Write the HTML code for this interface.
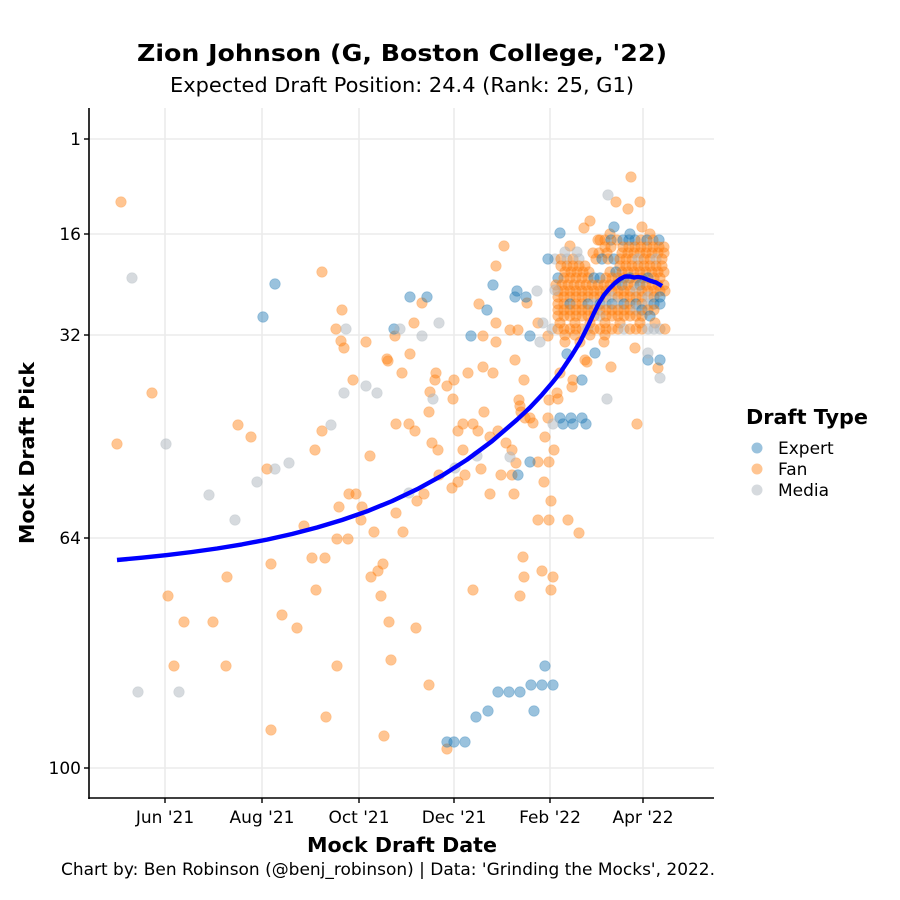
<!DOCTYPE html>
<html><head><meta charset="utf-8"><style>
html,body{margin:0;padding:0;background:#fff;}
svg{display:block;font-family:"DejaVu Sans","Liberation Sans",sans-serif;}
.f{fill:#ff7f0e;fill-opacity:.45;stroke:#ff7f0e;stroke-opacity:.25;stroke-width:.8}
.e{fill:#1f77b4;fill-opacity:.45;stroke:#1f77b4;stroke-opacity:.3;stroke-width:.8}
.m{fill:#adb5bd;fill-opacity:.5;stroke:#adb5bd;stroke-opacity:.3;stroke-width:.8}
.g{stroke:#ebebeb;stroke-width:1.6}
.tk{font-size:17px;fill:#000}
</style></head><body>
<svg width="900" height="900" viewBox="0 0 900 900" xmlns="http://www.w3.org/2000/svg">
<rect width="900" height="900" fill="#fff"/>
<!-- titles -->
<text x="402" y="61" text-anchor="middle" font-weight="bold" font-size="23" textLength="530" lengthAdjust="spacingAndGlyphs">Zion Johnson (G, Boston College, '22)</text>
<text x="402" y="92" text-anchor="middle" font-size="20" textLength="464" lengthAdjust="spacingAndGlyphs">Expected Draft Position: 24.4 (Rank: 25, G1)</text>
<!-- grid -->
<g class="g">
<line x1="89" y1="139" x2="714" y2="139"/><line x1="89" y1="234" x2="714" y2="234"/><line x1="89" y1="335" x2="714" y2="335"/><line x1="89" y1="538" x2="714" y2="538"/><line x1="89" y1="768" x2="714" y2="768"/>
<line x1="165" y1="108" x2="165" y2="798"/><line x1="262" y1="108" x2="262" y2="798"/><line x1="359" y1="108" x2="359" y2="798"/><line x1="454" y1="108" x2="454" y2="798"/><line x1="550" y1="108" x2="550" y2="798"/><line x1="643" y1="108" x2="643" y2="798"/>
</g>
<!-- points -->
<g>
<g id="fan">
<circle class="f" cx="121" cy="202" r="5.3"/><circle class="f" cx="117" cy="444" r="5.3"/><circle class="f" cx="152" cy="393" r="5.3"/><circle class="f" cx="168" cy="596" r="5.3"/><circle class="f" cx="174" cy="666" r="5.3"/><circle class="f" cx="184" cy="622" r="5.3"/><circle class="f" cx="213" cy="622" r="5.3"/><circle class="f" cx="226" cy="666" r="5.3"/><circle class="f" cx="227" cy="577" r="5.3"/><circle class="f" cx="238" cy="425" r="5.3"/><circle class="f" cx="251" cy="437" r="5.3"/><circle class="f" cx="267" cy="469" r="5.3"/><circle class="f" cx="271" cy="564" r="5.3"/><circle class="f" cx="271" cy="730" r="5.3"/><circle class="f" cx="282" cy="615" r="5.3"/><circle class="f" cx="297" cy="628" r="5.3"/><circle class="f" cx="304" cy="526" r="5.3"/><circle class="f" cx="312" cy="558" r="5.3"/><circle class="f" cx="315" cy="450" r="5.3"/><circle class="f" cx="316" cy="590" r="5.3"/><circle class="f" cx="322" cy="272" r="5.3"/><circle class="f" cx="322" cy="431" r="5.3"/><circle class="f" cx="325" cy="558" r="5.3"/><circle class="f" cx="326" cy="717" r="5.3"/><circle class="f" cx="337" cy="539" r="5.3"/><circle class="f" cx="337" cy="666" r="5.3"/><circle class="f" cx="339" cy="507" r="5.3"/><circle class="f" cx="341" cy="341" r="5.3"/><circle class="f" cx="342" cy="310" r="5.3"/><circle class="f" cx="336" cy="329" r="5.3"/><circle class="f" cx="344" cy="348" r="5.3"/><circle class="f" cx="349" cy="494" r="5.3"/><circle class="f" cx="348" cy="539" r="5.3"/><circle class="f" cx="353" cy="380" r="5.3"/><circle class="f" cx="356" cy="494" r="5.3"/><circle class="f" cx="362" cy="507" r="5.3"/><circle class="f" cx="361" cy="520" r="5.3"/><circle class="f" cx="366" cy="342" r="5.3"/><circle class="f" cx="370" cy="456" r="5.3"/><circle class="f" cx="371" cy="577" r="5.3"/><circle class="f" cx="378" cy="571" r="5.3"/><circle class="f" cx="383" cy="564" r="5.3"/><circle class="f" cx="381" cy="596" r="5.3"/><circle class="f" cx="384" cy="736" r="5.3"/><circle class="f" cx="388" cy="361" r="5.3"/><circle class="f" cx="389" cy="622" r="5.3"/><circle class="f" cx="391" cy="660" r="5.3"/><circle class="f" cx="396" cy="424" r="5.3"/><circle class="f" cx="396" cy="513" r="5.3"/><circle class="f" cx="395" cy="336" r="5.3"/><circle class="f" cx="402" cy="373" r="5.3"/><circle class="f" cx="409" cy="424" r="5.3"/><circle class="f" cx="410" cy="354" r="5.3"/><circle class="f" cx="414" cy="323" r="5.3"/><circle class="f" cx="415" cy="431" r="5.3"/><circle class="f" cx="416" cy="628" r="5.3"/><circle class="f" cx="417" cy="501" r="5.3"/><circle class="f" cx="422" cy="303" r="5.3"/><circle class="f" cx="424" cy="494" r="5.3"/><circle class="f" cx="374" cy="532" r="5.3"/><circle class="f" cx="403" cy="532" r="5.3"/><circle class="f" cx="387" cy="359" r="5.3"/><circle class="f" cx="429" cy="685" r="5.3"/><circle class="f" cx="429" cy="412" r="5.3"/><circle class="f" cx="430" cy="392" r="5.3"/><circle class="f" cx="432" cy="443" r="5.3"/><circle class="f" cx="435" cy="380" r="5.3"/><circle class="f" cx="436" cy="373" r="5.3"/><circle class="f" cx="438" cy="450" r="5.3"/><circle class="f" cx="439" cy="475" r="5.3"/><circle class="f" cx="447" cy="749" r="5.3"/><circle class="f" cx="447" cy="386" r="5.3"/><circle class="f" cx="453" cy="399" r="5.3"/><circle class="f" cx="454" cy="380" r="5.3"/><circle class="f" cx="452" cy="488" r="5.3"/><circle class="f" cx="458" cy="431" r="5.3"/><circle class="f" cx="458" cy="482" r="5.3"/><circle class="f" cx="463" cy="450" r="5.3"/><circle class="f" cx="463" cy="424" r="5.3"/><circle class="f" cx="465" cy="475" r="5.3"/><circle class="f" cx="468" cy="373" r="5.3"/><circle class="f" cx="473" cy="424" r="5.3"/><circle class="f" cx="473" cy="590" r="5.3"/><circle class="f" cx="478" cy="431" r="5.3"/><circle class="f" cx="479" cy="304" r="5.3"/><circle class="f" cx="481" cy="469" r="5.3"/><circle class="f" cx="483" cy="367" r="5.3"/><circle class="f" cx="483" cy="336" r="5.3"/><circle class="f" cx="484" cy="412" r="5.3"/><circle class="f" cx="490" cy="437" r="5.3"/><circle class="f" cx="490" cy="494" r="5.3"/><circle class="f" cx="493" cy="373" r="5.3"/><circle class="f" cx="496" cy="266" r="5.3"/><circle class="f" cx="496" cy="323" r="5.3"/><circle class="f" cx="496" cy="342" r="5.3"/><circle class="f" cx="498" cy="431" r="5.3"/><circle class="f" cx="501" cy="475" r="5.3"/><circle class="f" cx="504" cy="246" r="5.3"/><circle class="f" cx="506" cy="443" r="5.3"/><circle class="f" cx="512" cy="450" r="5.3"/><circle class="f" cx="512" cy="475" r="5.3"/><circle class="f" cx="514" cy="494" r="5.3"/><circle class="f" cx="515" cy="360" r="5.3"/><circle class="f" cx="516" cy="463" r="5.3"/><circle class="f" cx="519" cy="400" r="5.3"/><circle class="f" cx="520" cy="406" r="5.3"/><circle class="f" cx="521" cy="412" r="5.3"/><circle class="f" cx="524" cy="380" r="5.3"/><circle class="f" cx="525" cy="418" r="5.3"/><circle class="f" cx="530" cy="418" r="5.3"/><circle class="f" cx="533" cy="423" r="5.3"/><circle class="f" cx="520" cy="596" r="5.3"/><circle class="f" cx="523" cy="557" r="5.3"/><circle class="f" cx="524" cy="577" r="5.3"/><circle class="f" cx="527" cy="303" r="5.3"/><circle class="f" cx="510" cy="330" r="5.3"/><circle class="f" cx="518" cy="330" r="5.3"/><circle class="f" cx="538" cy="323" r="5.3"/><circle class="f" cx="538" cy="462" r="5.3"/><circle class="f" cx="538" cy="520" r="5.3"/><circle class="f" cx="542" cy="571" r="5.3"/><circle class="f" cx="544" cy="482" r="5.3"/><circle class="f" cx="545" cy="437" r="5.3"/><circle class="f" cx="548" cy="418" r="5.3"/><circle class="f" cx="549" cy="400" r="5.3"/><circle class="f" cx="549" cy="462" r="5.3"/><circle class="f" cx="549" cy="520" r="5.3"/><circle class="f" cx="551" cy="501" r="5.3"/><circle class="f" cx="551" cy="590" r="5.3"/><circle class="f" cx="553" cy="577" r="5.3"/><circle class="f" cx="554" cy="450" r="5.3"/><circle class="f" cx="557" cy="393" r="5.3"/><circle class="f" cx="558" cy="399" r="5.3"/><circle class="f" cx="560" cy="373" r="5.3"/><circle class="f" cx="568" cy="520" r="5.3"/><circle class="f" cx="572" cy="387" r="5.3"/><circle class="f" cx="573" cy="380" r="5.3"/><circle class="f" cx="579" cy="533" r="5.3"/><circle class="f" cx="587" cy="362" r="5.3"/><circle class="f" cx="585" cy="360" r="5.3"/><circle class="f" cx="604" cy="342" r="5.3"/><circle class="f" cx="611" cy="367" r="5.3"/><circle class="f" cx="635" cy="348" r="5.3"/><circle class="f" cx="637" cy="424" r="5.3"/><circle class="f" cx="658" cy="368" r="5.3"/><circle class="f" cx="548" cy="336" r="5.3"/><circle class="f" cx="565" cy="342" r="5.3"/><circle class="f" cx="580" cy="342" r="5.3"/>
<circle class="f" cx="600" cy="240" r="5.3"/><circle class="f" cx="584" cy="228" r="5.3"/><circle class="f" cx="590" cy="221" r="5.3"/><circle class="f" cx="631" cy="177" r="5.3"/><circle class="f" cx="616" cy="202" r="5.3"/><circle class="f" cx="640" cy="202" r="5.3"/><circle class="f" cx="628" cy="209" r="5.3"/><circle class="f" cx="642" cy="227" r="5.3"/><circle class="f" cx="570" cy="246" r="5.3"/>
</g>
<!-- dense blob -->
<g>
<circle class="f" cx="610" cy="234" r="5.3"/><circle class="e" cx="630" cy="234" r="5.3"/><circle class="f" cx="650" cy="234" r="5.3"/>
<circle class="f" cx="598" cy="240" r="5.3"/><circle class="f" cx="605" cy="240" r="5.3"/><circle class="e" cx="611" cy="240" r="5.3"/><circle class="f" cx="617" cy="240" r="5.3"/><circle class="e" cx="623" cy="240" r="5.3"/><circle class="e" cx="629" cy="240" r="5.3"/><circle class="e" cx="635" cy="240" r="5.3"/><circle class="f" cx="641" cy="240" r="5.3"/><circle class="e" cx="647" cy="240" r="5.3"/><circle class="f" cx="653" cy="240" r="5.3"/><circle class="e" cx="659" cy="240" r="5.3"/>
<circle class="f" cx="605" cy="247" r="5.3"/><circle class="f" cx="611" cy="247" r="5.3"/><circle class="f" cx="623" cy="247" r="5.3"/><circle class="f" cx="629" cy="247" r="5.3"/><circle class="f" cx="635" cy="247" r="5.3"/><circle class="f" cx="641" cy="247" r="5.3"/><circle class="f" cx="647" cy="247" r="5.3"/><circle class="f" cx="653" cy="247" r="5.3"/><circle class="f" cx="659" cy="247" r="5.3"/><circle class="f" cx="664" cy="247" r="5.3"/>
<g transform="translate(3,0)">
<circle class="f" cx="590" cy="253" r="5.3"/><circle class="f" cx="596" cy="253" r="5.3"/><circle class="f" cx="604" cy="253" r="5.3"/><circle class="f" cx="619" cy="253" r="5.3"/><circle class="f" cx="625" cy="253" r="5.3"/><circle class="f" cx="631" cy="253" r="5.3"/><circle class="f" cx="637" cy="253" r="5.3"/><circle class="f" cx="643" cy="253" r="5.3"/><circle class="f" cx="649" cy="253" r="5.3"/><circle class="f" cx="655" cy="253" r="5.3"/><circle class="f" cx="661" cy="253" r="5.3"/>
</g>
<circle class="m" cx="555" cy="259" r="5.3"/><circle class="f" cx="561" cy="259" r="5.3"/><circle class="m" cx="567" cy="259" r="5.3"/><circle class="f" cx="573" cy="259" r="5.3"/><circle class="m" cx="579" cy="259" r="5.3"/><circle class="f" cx="596" cy="259" r="5.3"/><circle class="e" cx="602" cy="259" r="5.3"/><circle class="f" cx="608" cy="259" r="5.3"/><circle class="e" cx="614" cy="259" r="5.3"/><circle class="f" cx="620" cy="259" r="5.3"/><circle class="f" cx="626" cy="259" r="5.3"/><circle class="f" cx="632" cy="259" r="5.3"/><circle class="m" cx="638" cy="259" r="5.3"/><circle class="f" cx="644" cy="259" r="5.3"/><circle class="f" cx="650" cy="259" r="5.3"/><circle class="m" cx="656" cy="259" r="5.3"/><circle class="f" cx="662" cy="259" r="5.3"/>
<g transform="translate(3,0)">
<circle class="f" cx="558" cy="266" r="5.3"/><circle class="f" cx="564" cy="266" r="5.3"/><circle class="f" cx="570" cy="266" r="5.3"/><circle class="f" cx="576" cy="266" r="5.3"/><circle class="f" cx="582" cy="266" r="5.3"/><circle class="f" cx="617" cy="266" r="5.3"/><circle class="f" cx="623" cy="266" r="5.3"/><circle class="f" cx="629" cy="266" r="5.3"/><circle class="f" cx="635" cy="266" r="5.3"/><circle class="f" cx="641" cy="266" r="5.3"/><circle class="f" cx="647" cy="266" r="5.3"/><circle class="f" cx="653" cy="266" r="5.3"/><circle class="f" cx="659" cy="266" r="5.3"/>
</g>
<circle class="f" cx="565" cy="272" r="5.3"/><circle class="f" cx="571" cy="272" r="5.3"/><circle class="f" cx="577" cy="272" r="5.3"/><circle class="f" cx="583" cy="272" r="5.3"/><circle class="f" cx="589" cy="272" r="5.3"/><circle class="f" cx="610" cy="272" r="5.3"/><circle class="e" cx="616" cy="272" r="5.3"/><circle class="f" cx="622" cy="272" r="5.3"/><circle class="f" cx="628" cy="272" r="5.3"/><circle class="f" cx="634" cy="272" r="5.3"/><circle class="f" cx="640" cy="272" r="5.3"/><circle class="f" cx="646" cy="272" r="5.3"/><circle class="f" cx="652" cy="272" r="5.3"/><circle class="f" cx="658" cy="272" r="5.3"/><circle class="f" cx="664" cy="272" r="5.3"/>
<g transform="translate(3,0)">
<circle class="e" cx="555" cy="278" r="5.3"/><circle class="f" cx="561" cy="278" r="5.3"/><circle class="f" cx="567" cy="278" r="5.3"/><circle class="f" cx="573" cy="278" r="5.3"/><circle class="f" cx="579" cy="278" r="5.3"/><circle class="f" cx="585" cy="278" r="5.3"/><circle class="e" cx="591" cy="278" r="5.3"/><circle class="e" cx="597" cy="278" r="5.3"/><circle class="f" cx="603" cy="278" r="5.3"/><circle class="f" cx="609" cy="278" r="5.3"/><circle class="f" cx="615" cy="278" r="5.3"/><circle class="f" cx="621" cy="278" r="5.3"/><circle class="e" cx="627" cy="278" r="5.3"/><circle class="f" cx="633" cy="278" r="5.3"/><circle class="f" cx="639" cy="278" r="5.3"/><circle class="e" cx="645" cy="278" r="5.3"/><circle class="f" cx="651" cy="278" r="5.3"/><circle class="f" cx="657" cy="278" r="5.3"/>
</g>
<circle class="f" cx="556" cy="285" r="5.3"/><circle class="f" cx="562" cy="285" r="5.3"/><circle class="f" cx="568" cy="285" r="5.3"/><circle class="f" cx="574" cy="285" r="5.3"/><circle class="f" cx="580" cy="285" r="5.3"/><circle class="f" cx="586" cy="285" r="5.3"/><circle class="f" cx="592" cy="285" r="5.3"/><circle class="f" cx="598" cy="285" r="5.3"/><circle class="f" cx="604" cy="285" r="5.3"/><circle class="f" cx="610" cy="285" r="5.3"/><circle class="f" cx="616" cy="285" r="5.3"/><circle class="e" cx="622" cy="285" r="5.3"/><circle class="f" cx="628" cy="285" r="5.3"/><circle class="f" cx="634" cy="285" r="5.3"/><circle class="e" cx="640" cy="285" r="5.3"/><circle class="f" cx="646" cy="285" r="5.3"/><circle class="f" cx="652" cy="285" r="5.3"/><circle class="f" cx="658" cy="285" r="5.3"/><circle class="f" cx="664" cy="285" r="5.3"/>
<g transform="translate(3,0)">
<circle class="f" cx="555" cy="291" r="5.3"/><circle class="f" cx="561" cy="291" r="5.3"/><circle class="f" cx="567" cy="291" r="5.3"/><circle class="f" cx="573" cy="291" r="5.3"/><circle class="f" cx="579" cy="291" r="5.3"/><circle class="f" cx="585" cy="291" r="5.3"/><circle class="f" cx="591" cy="291" r="5.3"/><circle class="f" cx="597" cy="291" r="5.3"/><circle class="f" cx="603" cy="291" r="5.3"/><circle class="f" cx="609" cy="291" r="5.3"/><circle class="f" cx="615" cy="291" r="5.3"/><circle class="f" cx="621" cy="291" r="5.3"/><circle class="f" cx="627" cy="291" r="5.3"/><circle class="m" cx="633" cy="291" r="5.3"/><circle class="f" cx="639" cy="291" r="5.3"/><circle class="f" cx="645" cy="291" r="5.3"/><circle class="f" cx="651" cy="291" r="5.3"/><circle class="f" cx="657" cy="291" r="5.3"/><circle class="f" cx="662" cy="291" r="5.3"/>
</g>
<circle class="f" cx="558" cy="297" r="5.3"/><circle class="f" cx="564" cy="297" r="5.3"/><circle class="f" cx="570" cy="297" r="5.3"/><circle class="f" cx="576" cy="297" r="5.3"/><circle class="f" cx="582" cy="297" r="5.3"/><circle class="f" cx="588" cy="297" r="5.3"/><circle class="f" cx="594" cy="297" r="5.3"/><circle class="f" cx="600" cy="297" r="5.3"/><circle class="f" cx="606" cy="297" r="5.3"/><circle class="m" cx="612" cy="297" r="5.3"/><circle class="f" cx="618" cy="297" r="5.3"/><circle class="f" cx="624" cy="297" r="5.3"/><circle class="f" cx="630" cy="297" r="5.3"/><circle class="f" cx="636" cy="297" r="5.3"/><circle class="f" cx="642" cy="297" r="5.3"/><circle class="m" cx="648" cy="297" r="5.3"/><circle class="f" cx="654" cy="297" r="5.3"/><circle class="e" cx="660" cy="297" r="5.3"/>
<g transform="translate(3,0)">
<circle class="f" cx="555" cy="304" r="5.3"/><circle class="f" cx="561" cy="304" r="5.3"/><circle class="e" cx="567" cy="304" r="5.3"/><circle class="f" cx="573" cy="304" r="5.3"/><circle class="f" cx="579" cy="304" r="5.3"/><circle class="e" cx="585" cy="304" r="5.3"/><circle class="m" cx="591" cy="304" r="5.3"/><circle class="e" cx="597" cy="304" r="5.3"/><circle class="m" cx="603" cy="304" r="5.3"/><circle class="e" cx="609" cy="304" r="5.3"/><circle class="m" cx="615" cy="304" r="5.3"/><circle class="e" cx="621" cy="304" r="5.3"/><circle class="f" cx="627" cy="304" r="5.3"/><circle class="e" cx="633" cy="304" r="5.3"/><circle class="f" cx="639" cy="304" r="5.3"/><circle class="m" cx="645" cy="304" r="5.3"/><circle class="e" cx="651" cy="304" r="5.3"/><circle class="e" cx="657" cy="304" r="5.3"/>
</g>
<circle class="f" cx="558" cy="310" r="5.3"/><circle class="f" cx="564" cy="310" r="5.3"/><circle class="f" cx="570" cy="310" r="5.3"/><circle class="f" cx="576" cy="310" r="5.3"/><circle class="f" cx="582" cy="310" r="5.3"/><circle class="f" cx="588" cy="310" r="5.3"/><circle class="f" cx="594" cy="310" r="5.3"/><circle class="f" cx="600" cy="310" r="5.3"/><circle class="f" cx="606" cy="310" r="5.3"/><circle class="f" cx="612" cy="310" r="5.3"/><circle class="f" cx="618" cy="310" r="5.3"/><circle class="f" cx="624" cy="310" r="5.3"/><circle class="f" cx="630" cy="310" r="5.3"/><circle class="m" cx="636" cy="310" r="5.3"/><circle class="e" cx="642" cy="310" r="5.3"/><circle class="f" cx="648" cy="310" r="5.3"/><circle class="f" cx="654" cy="310" r="5.3"/>
<g transform="translate(3,0)">
<circle class="f" cx="555" cy="316" r="5.3"/><circle class="f" cx="561" cy="316" r="5.3"/><circle class="f" cx="567" cy="316" r="5.3"/><circle class="f" cx="573" cy="316" r="5.3"/><circle class="f" cx="579" cy="316" r="5.3"/><circle class="f" cx="585" cy="316" r="5.3"/><circle class="f" cx="591" cy="316" r="5.3"/><circle class="m" cx="597" cy="316" r="5.3"/><circle class="f" cx="603" cy="316" r="5.3"/><circle class="f" cx="609" cy="316" r="5.3"/><circle class="f" cx="615" cy="316" r="5.3"/><circle class="f" cx="621" cy="316" r="5.3"/><circle class="f" cx="627" cy="316" r="5.3"/><circle class="f" cx="633" cy="316" r="5.3"/><circle class="f" cx="639" cy="316" r="5.3"/><circle class="e" cx="647" cy="316" r="5.3"/>
</g>
<circle class="f" cx="560" cy="323" r="5.3"/><circle class="f" cx="575" cy="323" r="5.3"/><circle class="f" cx="590" cy="323" r="5.3"/><circle class="f" cx="605" cy="323" r="5.3"/><circle class="f" cx="620" cy="323" r="5.3"/><circle class="f" cx="640" cy="323" r="5.3"/><circle class="f" cx="655" cy="323" r="5.3"/>
<circle class="m" cx="552" cy="329" r="5.3"/><circle class="f" cx="558" cy="329" r="5.3"/><circle class="f" cx="564" cy="329" r="5.3"/><circle class="f" cx="570" cy="329" r="5.3"/><circle class="f" cx="576" cy="329" r="5.3"/><circle class="f" cx="582" cy="329" r="5.3"/><circle class="m" cx="588" cy="329" r="5.3"/><circle class="f" cx="594" cy="329" r="5.3"/><circle class="f" cx="600" cy="329" r="5.3"/><circle class="f" cx="606" cy="329" r="5.3"/><circle class="f" cx="612" cy="329" r="5.3"/><circle class="f" cx="618" cy="329" r="5.3"/><circle class="m" cx="624" cy="329" r="5.3"/><circle class="f" cx="630" cy="329" r="5.3"/><circle class="f" cx="636" cy="329" r="5.3"/><circle class="f" cx="642" cy="329" r="5.3"/><circle class="m" cx="648" cy="329" r="5.3"/><circle class="m" cx="654" cy="329" r="5.3"/><circle class="m" cx="660" cy="329" r="5.3"/><circle class="f" cx="665" cy="329" r="5.3"/>
<circle class="f" cx="565" cy="335" r="5.3"/><circle class="f" cx="575" cy="335" r="5.3"/><circle class="f" cx="590" cy="335" r="5.3"/><circle class="f" cx="605" cy="335" r="5.3"/>
</g>
<g id="expert">
<circle class="e" cx="263" cy="317" r="5.3"/><circle class="e" cx="275" cy="284" r="5.3"/><circle class="e" cx="394" cy="329" r="5.3"/><circle class="e" cx="410" cy="297" r="5.3"/><circle class="e" cx="427" cy="297" r="5.3"/><circle class="e" cx="471" cy="336" r="5.3"/><circle class="e" cx="487" cy="310" r="5.3"/><circle class="e" cx="493" cy="285" r="5.3"/><circle class="e" cx="515" cy="297" r="5.3"/><circle class="e" cx="517" cy="291" r="5.3"/><circle class="e" cx="526" cy="297" r="5.3"/><circle class="e" cx="530" cy="336" r="5.3"/><circle class="e" cx="530" cy="462" r="5.3"/><circle class="e" cx="518" cy="475" r="5.3"/><circle class="e" cx="548" cy="259" r="5.3"/><circle class="e" cx="560" cy="233" r="5.3"/><circle class="e" cx="560" cy="418" r="5.3"/><circle class="e" cx="563" cy="424" r="5.3"/><circle class="e" cx="571" cy="418" r="5.3"/><circle class="e" cx="573" cy="424" r="5.3"/><circle class="e" cx="582" cy="418" r="5.3"/><circle class="e" cx="582" cy="380" r="5.3"/><circle class="e" cx="586" cy="424" r="5.3"/><circle class="e" cx="447" cy="742" r="5.3"/><circle class="e" cx="454" cy="742" r="5.3"/><circle class="e" cx="465" cy="742" r="5.3"/><circle class="e" cx="476" cy="717" r="5.3"/><circle class="e" cx="488" cy="711" r="5.3"/><circle class="e" cx="498" cy="692" r="5.3"/><circle class="e" cx="509" cy="692" r="5.3"/><circle class="e" cx="520" cy="692" r="5.3"/><circle class="e" cx="531" cy="685" r="5.3"/><circle class="e" cx="542" cy="685" r="5.3"/><circle class="e" cx="553" cy="685" r="5.3"/><circle class="e" cx="545" cy="666" r="5.3"/><circle class="e" cx="534" cy="711" r="5.3"/><circle class="e" cx="614" cy="227" r="5.3"/><circle class="e" cx="567" cy="354" r="5.3"/><circle class="e" cx="595" cy="353" r="5.3"/><circle class="e" cx="648" cy="360" r="5.3"/><circle class="e" cx="660" cy="360" r="5.3"/>
</g>
<g id="media">
<circle class="m" cx="132" cy="278" r="5.3"/><circle class="m" cx="166" cy="444" r="5.3"/><circle class="m" cx="138" cy="692" r="5.3"/><circle class="m" cx="179" cy="692" r="5.3"/><circle class="m" cx="209" cy="495" r="5.3"/><circle class="m" cx="235" cy="520" r="5.3"/><circle class="m" cx="257" cy="482" r="5.3"/><circle class="m" cx="275" cy="469" r="5.3"/><circle class="m" cx="289" cy="463" r="5.3"/><circle class="m" cx="331" cy="425" r="5.3"/><circle class="m" cx="344" cy="393" r="5.3"/><circle class="m" cx="346" cy="329" r="5.3"/><circle class="m" cx="366" cy="386" r="5.3"/><circle class="m" cx="377" cy="393" r="5.3"/><circle class="m" cx="400" cy="329" r="5.3"/><circle class="m" cx="422" cy="336" r="5.3"/><circle class="m" cx="433" cy="399" r="5.3"/><circle class="m" cx="439" cy="323" r="5.3"/><circle class="m" cx="455" cy="468" r="5.3"/><circle class="m" cx="477" cy="456" r="5.3"/><circle class="m" cx="510" cy="457" r="5.3"/><circle class="m" cx="537" cy="291" r="5.3"/><circle class="m" cx="540" cy="342" r="5.3"/><circle class="m" cx="543" cy="323" r="5.3"/><circle class="m" cx="553" cy="424" r="5.3"/><circle class="m" cx="607" cy="399" r="5.3"/><circle class="m" cx="608" cy="195" r="5.3"/><circle class="m" cx="565" cy="252" r="5.3"/><circle class="m" cx="577" cy="252" r="5.3"/><circle class="m" cx="555" cy="290" r="5.3"/><circle class="m" cx="648" cy="353" r="5.3"/><circle class="m" cx="660" cy="378" r="5.3"/><circle class="m" cx="409" cy="493" r="5.3"/>
</g>
</g>
<!-- smooth line -->
<polyline fill="none" stroke="#0000ff" stroke-width="4.4" stroke-linejoin="round" stroke-linecap="butt" points="117,560 142,557.7 167,555.1 192,552 217,548.5 242,544.4 267,539.6 292,534 317,527.5 342,520 367,511.3 392,501.1 417,489.3 442,475.6 467,459.7 492,441.2 517,419.7 530,407.5 542,394.7 552,383 560,373 566,364 572,355 580,342 588,326 594,313 599,303 604,295 609,289 615,283 620,279 625,276.5 630,276.5 634,277.5 638,277 642,277.5 646,279 651,281 656,282.5 662,286"/>
<!-- axes -->
<line x1="89" y1="108" x2="89" y2="799" stroke="#000" stroke-width="1.6"/>
<line x1="88.2" y1="798" x2="714" y2="798" stroke="#000" stroke-width="1.6"/>
<g stroke="#000" stroke-width="1.4">
<line x1="84" y1="139" x2="89" y2="139"/><line x1="84" y1="234" x2="89" y2="234"/><line x1="84" y1="335" x2="89" y2="335"/><line x1="84" y1="538" x2="89" y2="538"/><line x1="84" y1="768" x2="89" y2="768"/>
<line x1="165" y1="798" x2="165" y2="803"/><line x1="262" y1="798" x2="262" y2="803"/><line x1="359" y1="798" x2="359" y2="803"/><line x1="454" y1="798" x2="454" y2="803"/><line x1="550" y1="798" x2="550" y2="803"/><line x1="643" y1="798" x2="643" y2="803"/>
</g>
<g class="tk" text-anchor="end">
<text x="81" y="145">1</text><text x="81" y="240">16</text><text x="81" y="341">32</text><text x="81" y="544">64</text><text x="81" y="774">100</text>
</g>
<g class="tk" text-anchor="middle">
<text x="165" y="823">Jun '21</text><text x="262" y="823">Aug '21</text><text x="359" y="823">Oct '21</text><text x="454" y="823">Dec '21</text><text x="550" y="823">Feb '22</text><text x="643" y="823">Apr '22</text>
</g>
<!-- axis labels -->
<text x="402" y="852" text-anchor="middle" font-weight="bold" font-size="20" textLength="190" lengthAdjust="spacingAndGlyphs">Mock Draft Date</text>
<text transform="translate(34,453) rotate(-90)" text-anchor="middle" font-weight="bold" font-size="20" textLength="182" lengthAdjust="spacingAndGlyphs">Mock Draft Pick</text>
<text x="388" y="875" text-anchor="middle" font-size="16.5" textLength="654" lengthAdjust="spacingAndGlyphs">Chart by: Ben Robinson (@benj_robinson) | Data: 'Grinding the Mocks', 2022.</text>
<!-- legend -->
<text x="746" y="424" font-weight="bold" font-size="20" textLength="122" lengthAdjust="spacingAndGlyphs">Draft Type</text>
<circle cx="757" cy="448" r="5.5" fill="#1f77b4" fill-opacity=".45"/>
<circle cx="757" cy="469" r="5.5" fill="#ff7f0e" fill-opacity=".45"/>
<circle cx="757" cy="490" r="5.5" fill="#adb5bd" fill-opacity=".5"/>
<g font-size="17">
<text x="778" y="454">Expert</text><text x="778" y="475">Fan</text><text x="778" y="496">Media</text>
</g>
</svg>
</body></html>
